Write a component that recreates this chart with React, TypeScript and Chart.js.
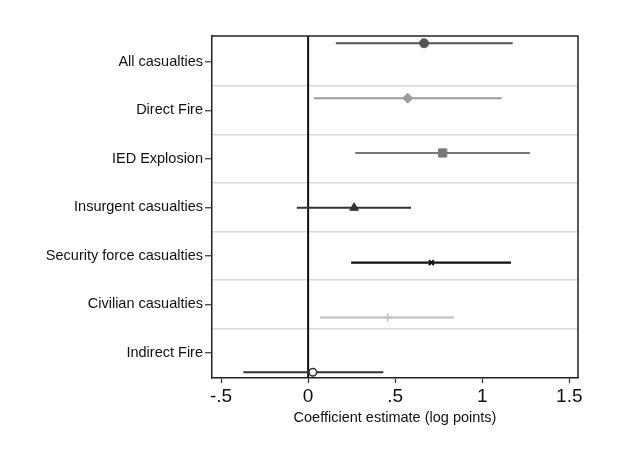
import React, { useEffect, useRef } from 'react';
import { Chart, registerables } from 'chart.js';

Chart.register(...registerables);

// ---- Data ----
const categories: string[] = [
  'All casualties',
  'Direct Fire',
  'IED Explosion',
  'Insurgent casualties',
  'Security force casualties',
  'Civilian casualties',
  'Indirect Fire',
];
const estimates: number[] = [0.666, 0.572, 0.773, 0.264, 0.708, 0.457, 0.027];
const lowerCI: number[] = [0.159, 0.034, 0.271, -0.065, 0.247, 0.069, -0.372];
const upperCI: number[] = [1.175, 1.112, 1.274, 0.591, 1.165, 0.838, 0.432];
const xTickValues: number[] = [-0.5, 0, 0.5, 1, 1.5];
const xTickLabels: string[] = ['-.5', '0', '.5', '1', '1.5'];
const xTitle = 'Coefficient estimate (log points)';

// ---- Styles ----
const markerStyles = ['circle', 'rectRot', 'rect', 'triangle', 'crossRot', 'cross', 'circle'];
const markerRadii = [4.5, 5, 5.8, 5, 3.5, 4, 3.8];
const lineColors = ['#555555', '#9a9a9a', '#777777', '#333333', '#111111', '#bdbdbd', '#333333'];
const markerFills = ['#555555', '#9a9a9a', '#777777', '#333333', '#111111', '#bdbdbd', '#ffffff'];
const markerBorderWidths = [1, 1, 1, 1, 2, 1.5, 1.5];
const lineWidths = [2, 2, 2, 2, 2.2, 2, 2];

const FONT = '"Liberation Sans", Arial, Helvetica, sans-serif';

export default function App() {
  const ref = useRef<HTMLCanvasElement>(null);

  useEffect(() => {
    const canvas = ref.current;
    if (!canvas) return;

    const yMin = 0.867;
    const yMax = 7.104;
    const labelStart = 1.341;
    const labelStep = 0.8845;
    const yTickVals: number[] = [];
    categories.forEach((_, i) => {
      yTickVals.push(labelStart + i * labelStep);
      if (i < categories.length - 1) yTickVals.push(labelStart + (i + 0.5) * labelStep);
    });

    const datasets: any[] = [];
    categories.forEach((c, i) => {
      datasets.push({
        type: 'line',
        label: c + ' CI',
        data: [
          { x: lowerCI[i], y: i + 1 },
          { x: upperCI[i], y: i + 1 },
        ],
        borderColor: lineColors[i],
        borderWidth: lineWidths[i],
        pointRadius: 0,
        fill: false,
        showLine: true,
        order: 2,
      });
      datasets.push({
        type: 'scatter',
        label: c,
        data: [{ x: estimates[i], y: i + 1 }],
        pointStyle: markerStyles[i],
        pointRadius: markerRadii[i],
        backgroundColor: markerFills[i],
        borderColor: lineColors[i],
        borderWidth: markerBorderWidths[i],
        order: 1,
      });
    });

    const framePlugin = {
      id: 'frame',
      beforeDatasetsDraw(chart: any) {
        const { ctx, chartArea, scales } = chart;
        const x0 = scales.x.getPixelForValue(0);
        ctx.save();
        ctx.strokeStyle = '#111';
        ctx.lineWidth = 2;
        ctx.beginPath();
        ctx.moveTo(x0, chartArea.top);
        ctx.lineTo(x0, chartArea.bottom);
        ctx.stroke();
        ctx.restore();
      },
      afterDraw(chart: any) {
        const { ctx, chartArea } = chart;
        ctx.save();
        ctx.strokeStyle = '#222';
        ctx.lineWidth = 1.5;
        ctx.beginPath();
        ctx.moveTo(chartArea.left, chartArea.top);
        ctx.lineTo(chartArea.right, chartArea.top);
        ctx.lineTo(chartArea.right, chartArea.bottom);
        ctx.stroke();
        ctx.restore();
      },
    };

    const chart = new Chart(canvas, {
      type: 'scatter',
      data: { datasets },
      options: {
        animation: false,
        responsive: false,
        devicePixelRatio: 1,
        layout: { padding: { top: 36, right: 62, left: 0, bottom: 0 } },
        plugins: { legend: { display: false }, tooltip: { enabled: false } },
        scales: {
          x: {
            type: 'linear',
            min: -0.552,
            max: 1.55,
            afterBuildTicks: (scale: any) => {
              scale.ticks = xTickValues.map((v) => ({ value: v }));
            },
            afterFit: (scale: any) => {
              scale.height = 79;
            },
            grid: {
              drawOnChartArea: false,
              drawTicks: true,
              tickLength: 5,
              tickColor: '#333',
              tickWidth: 1.2,
            },
            border: { display: true, color: '#222', width: 1.5 },
            ticks: {
              autoSkip: false,
              maxRotation: 0,
              padding: 2,
              color: '#111',
              font: { family: FONT, size: 19 },
              callback: (_v: any, i: number) => xTickLabels[i],
            },
            title: {
              display: true,
              text: xTitle,
              color: '#111',
              font: { family: FONT, size: 14.5 },
              padding: { top: 0, bottom: 30 },
            },
          },
          y: {
            type: 'linear',
            reverse: true,
            min: yMin,
            max: yMax,
            afterBuildTicks: (scale: any) => {
              scale.ticks = yTickVals.map((v) => ({ value: v }));
            },
            afterFit: (scale: any) => {
              scale.width = 212;
            },
            grid: {
              drawOnChartArea: true,
              drawTicks: true,
              tickLength: 7,
              lineWidth: 1.5,
              tickWidth: 1.2,
              color: (c: any) => (c.index % 2 === 1 ? '#dadada' : 'rgba(0,0,0,0)'),
              tickColor: (c: any) => (c.index % 2 === 0 ? '#333' : 'rgba(0,0,0,0)'),
            },
            border: { display: true, color: '#222', width: 1.5 },
            ticks: {
              autoSkip: false,
              padding: 2,
              color: '#111',
              font: { family: FONT, size: 14.5 },
              callback: (_v: any, i: number) => (i % 2 === 0 ? categories[i / 2] : ''),
            },
          },
        },
      },
      plugins: [framePlugin],
    });

    return () => chart.destroy();
  }, []);

  return (
    <div style={{ position: 'fixed', left: 0, top: 0, width: 640, height: 457, background: '#fff' }}>
      <canvas ref={ref} width={640} height={457} style={{ display: 'block' }} />
    </div>
  );
}
